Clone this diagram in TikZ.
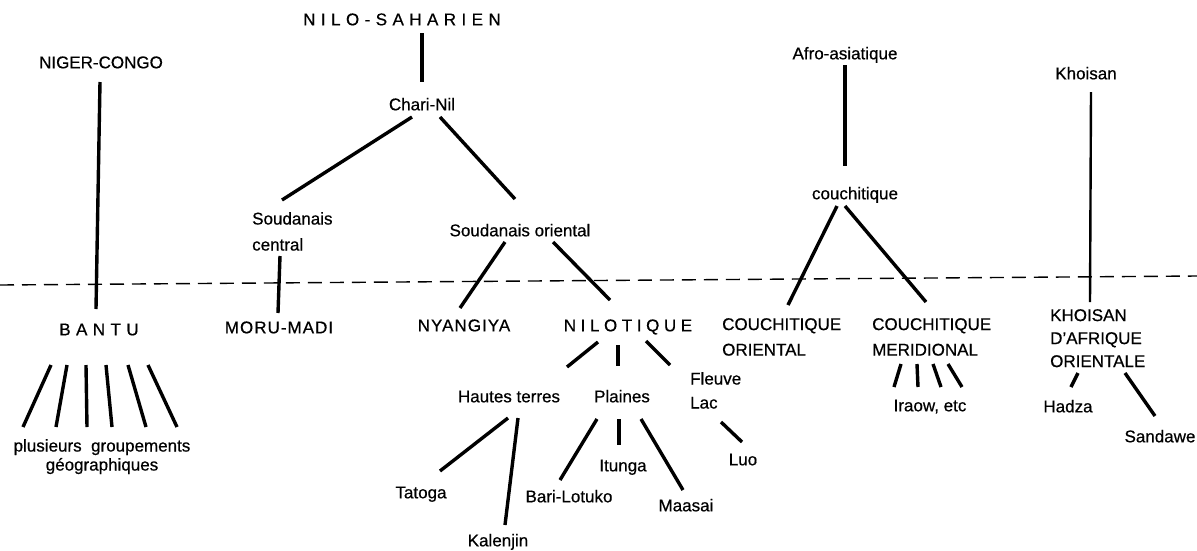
\documentclass[tikz,border=0pt]{standalone}
\usepackage{fontspec}
\setmainfont{Liberation Sans}[FakeBold=0.6]
\usetikzlibrary{calc}
\begin{document}
\begin{tikzpicture}[x=1pt,y=-1pt,
  lbl/.style={inner sep=0pt, font=\fontsize{17}{20}\selectfont, text height=12.2pt, text depth=3.6pt},
  wide/.style={lbl, font={\fontsize{17}{20}\selectfont\addfontfeature{LetterSpace=32}}},
  wider/.style={lbl, font={\fontsize{17}{20}\selectfont\addfontfeature{LetterSpace=6}}},
  block/.style={inner sep=0pt, align=left, anchor=north west},
  branch/.style={line width=3.4pt},
  slim branch/.style={line width=2.4pt},
  boundary/.style={line width=1.4pt, dash pattern=on 14pt off 8pt}
]
\useasboundingbox (0,0) rectangle (1197,550);

% boundary line
\draw[boundary] (0,285) -- (1197,276);

% Niger-Congo
\node[lbl] (ngc) at (101,64) {NIGER-CONGO};
\node[wide] (bantu) at (99,331) {BANTU};
\node[block, anchor=north, align=center, font=\fontsize{17}{19}\selectfont] (plus) at (102,439) {plusieurs\ \ groupements\\géographiques};

% Nilo-saharien
\node[wide] (nilo) at (402,21) {NILO-SAHARIEN};
\node[lbl] (chari) at (422,106) {Chari-Nil};
\node[block, font=\fontsize{17}{26}\selectfont] (scentral) at (252,212) {Soudanais\\central};
\node[lbl] (sor) at (520,232) {Soudanais oriental};
\node[wider] (moru) at (279,329) {MORU-MADI};
\node[wider] (nyan) at (464,327) {NYANGIYA};
\node[wide, font={\fontsize{17}{20}\selectfont\addfontfeature{LetterSpace=27}}] (nilot) at (628,327) {NILOTIQUE};
\node[lbl] (haut) at (509,398) {Hautes terres};
\node[lbl] (plai) at (622,398) {Plaines};
\node[block, font=\fontsize{17}{24}\selectfont] (fleuve) at (690,372) {Fleuve\\Lac};
\node[lbl] (tat) at (421,494) {Tatoga};
\node[lbl] (kal) at (498,542) {Kalenjin};
\node[lbl] (bari) at (569,498) {Bari-Lotuko};
\node[lbl] (itu) at (623,467) {Itunga};
\node[lbl] (maa) at (686,507) {Maasai};
\node[lbl] (luo) at (743,461) {Luo};

% Afro-asiatique
\node[lbl] (afro) at (845,55) {Afro-asiatique};
\node[lbl] (cou) at (855,195) {couchitique};
\node[block, font=\fontsize{17}{25.5}\selectfont] (cor) at (722,318) {COUCHITIQUE\\ORIENTAL};
\node[block, font=\fontsize{17}{25.5}\selectfont] (cmer) at (872,318) {COUCHITIQUE\\MERIDIONAL};
\node[lbl] (iraow) at (930,407) {Iraow, etc};

% Khoisan
\node[lbl] (khoisan) at (1086,75) {Khoisan};
\node[block, font=\fontsize{17}{23}\selectfont] (kho) at (1050,309) {KHOISAN\\D’AFRIQUE\\ORIENTALE};
\node[lbl] (hadza) at (1068,408) {Hadza};
\node[lbl] (sand) at (1160,438) {Sandawe};

% connectors
\draw[branch] ($(ngc)+(-1,18)$) -- ($(bantu)+(-3,-22)$);
\foreach \a/\b in {-48/-79, -32/-46, -13/-15, 7/10, 29/44, 49/75}
  \draw[branch] ($(bantu)+(\a,34)$) -- ($(plus.north)+(\b,-12)$);

\draw[branch] ($(nilo)+(20,12)$) -- ($(chari)+(0,-24)$);
\draw[branch] ($(chari)+(-10,11)$) -- ($(scentral.north west)+(30,-12)$);
\draw[branch] ($(chari)+(18,11)$) -- ($(sor)+(-5,-33)$);
\draw[branch] ($(scentral.north west)+(28,44)$) -- ($(moru)+(-1,-16)$);
\draw[branch] ($(sor)+(-15,10)$) -- ($(nyan)+(-4,-19)$);
\draw[branch] ($(sor)+(33,10)$) -- ($(nilot)+(-18,-27)$);
\draw[branch] ($(nilot)+(-30,15)$) -- ($(haut)+(58,-31)$);
\draw[branch] ($(nilot)+(-10,18)$) -- ($(plai)+(-4,-32)$);
\draw[branch] ($(nilot)+(18,14)$) -- ($(fleuve.north west)+(-20,-7)$);
\draw[branch] ($(haut)+(-1,20)$) -- ($(tat)+(19,-23)$);
\draw[branch] ($(haut)+(9,20)$) -- ($(kal)+(7,-17)$);
\draw[branch] ($(plai)+(-25,21)$) -- ($(bari)+(-9,-18)$);
\draw[branch] ($(plai)+(-3,21)$) -- ($(itu)+(-4,-22)$);
\draw[branch] ($(plai)+(19,21)$) -- ($(maa)+(-3,-17)$);
\draw[branch] ($(fleuve.north west)+(31,50)$) -- ($(luo)+(-1,-19)$);

\draw[branch] ($(afro)+(0,10)$) -- ($(cou)+(-10,-29)$);
\draw[branch] ($(cou)+(-18,11)$) -- ($(cor.north west)+(66,-13)$);
\draw[branch] ($(cou)+(-10,11)$) -- ($(cmer.north west)+(54,-16)$);
\foreach \a/\b in {29/-36, 45/-12, 61/11, 76/32}
  \draw[branch] ($(cmer.north west)+(\a,46)$) -- ($(iraow)+(\b,-20)$);

\draw[slim branch] ($(khoisan)+(5,17)$) -- ($(kho.north west)+(40,-7)$);
\draw[branch] ($(kho.north west)+(28,64)$) -- ($(hadza)+(3,-21)$);
\draw[branch] ($(kho.north west)+(75,64)$) -- ($(sand)+(-5,-22)$);
\end{tikzpicture}
\end{document}
